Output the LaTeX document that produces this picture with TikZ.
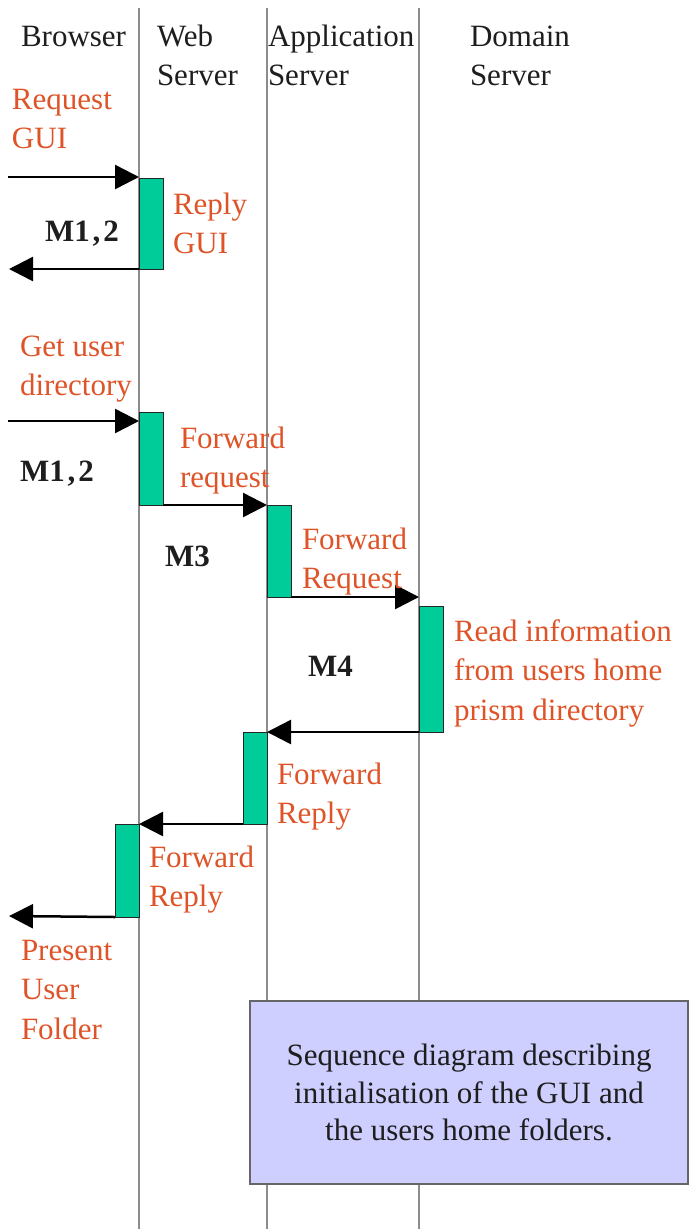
\documentclass[tikz,border=0pt]{standalone}
\usepackage{fontspec}
\setmainfont{Liberation Serif}
\usetikzlibrary{arrows.meta,calc}
\definecolor{msgred}{RGB}{222,84,40}
\definecolor{actgreen}{RGB}{0,204,153}
\definecolor{lifegray}{RGB}{140,140,140}
\definecolor{notefill}{RGB}{206,206,255}
\definecolor{inkgray}{RGB}{30,30,30}
\begin{document}
\begin{tikzpicture}[x=1pt,y=-1pt,
  % multi-line labels are placed by the baseline of their last line
  lbl/.style={anchor=base west, inner sep=0pt, outer sep=0pt, align=left,
              font=\fontsize{31}{39.5}\selectfont},
  head/.style={lbl, text=inkgray},
  msgtext/.style={lbl, text=msgred},
  mtag/.style={lbl, text=inkgray, font=\fontsize{31}{39}\selectfont\bfseries},
  act/.style={draw=black!85, line width=1pt, fill=actgreen, minimum width=24pt,
              inner sep=0pt, outer sep=0pt, anchor=north west},
  msg/.style={line width=2.5pt, -{Triangle[length=24pt,width=24pt]}},
  life/.style={draw=lifegray, line width=1.6pt},
  notebox/.style={draw=black!60, line width=1.5pt, fill=notefill, align=center,
                  minimum width=438pt, minimum height=183pt, inner sep=0pt,
                  text=inkgray, font=\fontsize{31}{37.5}\selectfont}]

% canvas
\fill[white] (0,0) rectangle (691,1229);
\useasboundingbox (0,0) rectangle (691,1229);

% lifelines
\coordinate (webtop) at (139,8);    \coordinate (webbot) at (139,1229);
\coordinate (apptop) at (267,8);    \coordinate (appbot) at (267,1229);
\coordinate (domtop) at (419,8);    \coordinate (dombot) at (419,1229);
\draw[life] (webtop) -- (webbot);
\draw[life] (apptop) -- (appbot);
\draw[life] (domtop) -- (dombot);

% column headings
\node[head] (hbrowser) at (21,46) {Browser};
\node[head] (hweb) at (157,85.5) {Web\\Server};
\node[head] (happ) at (268,85.5) {Application\\Server};
\node[head] (hdom) at (470,85.5) {Domain\\Server};

% activation bars
\node[act, minimum height=91pt] (a1) at (139,178) {};
\node[act, minimum height=93pt] (a2) at (139,412) {};
\node[act, minimum height=92pt] (a3) at (267,505) {};
\node[act, minimum height=126pt] (a4) at (419,606) {};
\node[act, minimum height=92pt] (a5) at (243,732) {};
\node[act, minimum height=93pt] (a6) at (115,824) {};

% free message ends on the browser side
\coordinate (guiin)  at (8,177);
\coordinate (guiout) at (9,269);
\coordinate (dirin)  at (8,421);
\coordinate (dirout) at (9,916);

% messages
\draw[msg] (guiin) -- (guiin -| a1.west);
\draw[msg] (a1.south west) -- (guiout);
\draw[msg] (dirin) -- (dirin -| a2.west);
\draw[msg] (a2.south east) -- (a3.north west);
\draw[msg] (a3.south east) -- (a3.south east -| a4.west);
\draw[msg] (a4.south west) -- (a5.north east);
\draw[msg] (a5.south west) -- (a6.north east);
\draw[msg] (a6.south west) -- (dirout);

% message labels
\node[msgtext] (tgui) at (12,148.5) {Request\\GUI};
\node[msgtext] (treply) at (173,253.5) {Reply\\GUI};
\node[msgtext] (tdir) at (20,395.5) {Get user\\directory};
\node[msgtext] (tfwd1) at (180,487.5) {Forward\\request};
\node[msgtext] (tfwd2) at (302,588.5) {Forward\\Request};
\node[msgtext] (tread) at (454,720) {Read information\\from users home\\prism directory};
\node[msgtext] (trep1) at (277,823.5) {Forward\\Reply};
\node[msgtext] (trep2) at (149,906.5) {Forward\\Reply};
\node[msgtext] (tpres) at (21,1039) {Present\\User\\Folder};

% message group tags
\node[mtag] (m12a) at (45,241) {M1\kern3pt,\kern3pt2};
\node[mtag] (m12b) at (20,481) {M1\kern3pt,\kern3pt2};
\node[mtag] (m3) at (165,566) {M3};
\node[mtag] (m4) at (308,676) {M4};

% caption
\node[notebox] (caption) at (469,1092.5)
  {Sequence diagram describing\\initialisation of the GUI and\\the users home folders.};
\end{tikzpicture}
\end{document}
